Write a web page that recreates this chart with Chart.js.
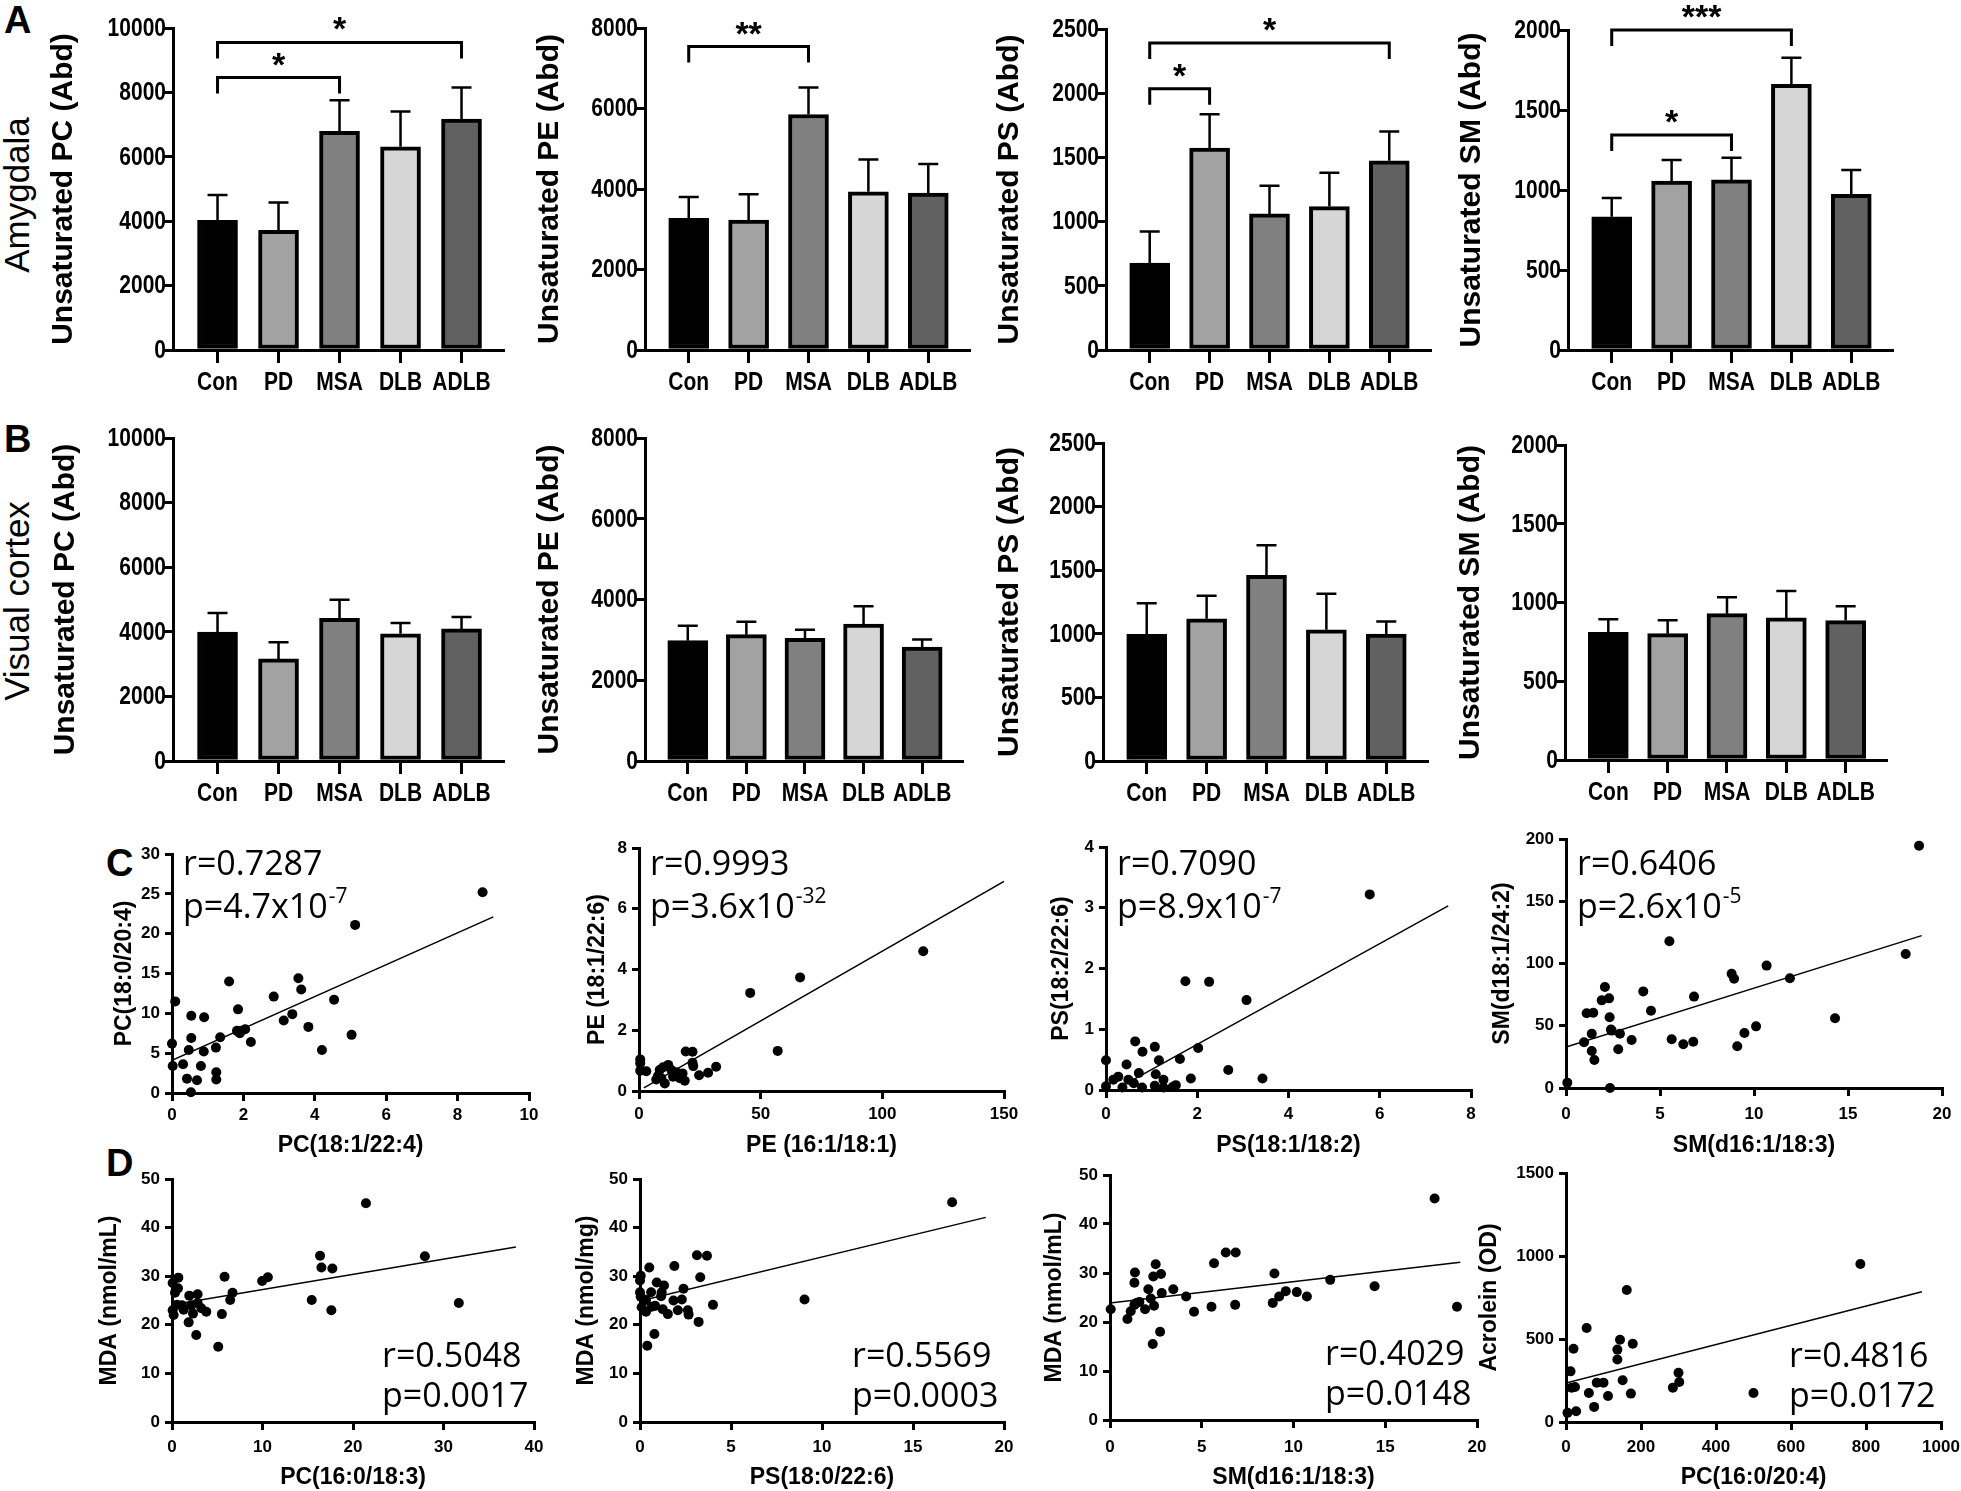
<!DOCTYPE html>
<html>
<head>
<meta charset="utf-8">
<title>Unsaturated lipids</title>
<script src="https://cdn.jsdelivr.net/npm/chart.js@4.4.1/dist/chart.umd.min.js"></script>
<style>
  html, body { margin: 0; padding: 0; background: #fff; }
  #fig { position: relative; width: 1961px; height: 1491px; overflow: hidden; background: #fff; }
  #fig canvas { position: absolute; }
  .letter { position: absolute; font: bold 38px 'Liberation Sans', Arial, sans-serif; line-height: 38px; color: #000; }
  .region { position: absolute; font: 35px 'Liberation Sans', Arial, sans-serif; line-height: 1; color: #000;
            white-space: nowrap; transform: translate(-50%, -50%) rotate(-90deg); }
</style>
</head>
<body>
<div id="fig">
  <div class="letter" style="left:4px;top:1px">A</div>
  <div class="letter" style="left:4px;top:420px">B</div>
  <div class="letter" style="left:106px;top:844px">C</div>
  <div class="letter" style="left:106px;top:1144px">D</div>
  <div class="region" style="left:16px;top:195px">Amygdala</div>
  <div class="region" style="left:16px;top:601px">Visual cortex</div>
</div>
<script>
// ---------- data ----------
const groups = ['Con', 'PD', 'MSA', 'DLB', 'ADLB'];

// amygdala: mean and upper SEM
const amyPC = [4030, 3720, 6790, 6310, 7170];
const amyPCErr = [780, 860, 970, 1100, 980];
const amyPE = [3270, 3230, 5850, 3930, 3900];
const amyPEErr = [530, 640, 670, 800, 720];
const amyPS = [676, 1572, 1060, 1117, 1473];
const amyPSErr = [247, 265, 219, 263, 229];
const amySM = [833, 1056, 1063, 1660, 973];
const amySMErr = [117, 132, 139, 167, 152];

// visual cortex
const visPC = [3990, 3160, 4420, 3940, 4090];
const visPCErr = [590, 520, 570, 330, 370];
const visPE = [2980, 3130, 3040, 3390, 2820];
const visPEErr = [370, 320, 210, 440, 190];
const visPS = [995, 1118, 1459, 1031, 997];
const visPSErr = [246, 181, 237, 284, 100];
const visSM = [811, 802, 929, 902, 885];
const visSMErr = [82, 85, 104, 171, 91];

// significance brackets: [from group, to group, bracket level, stars]
const sigPC = [[0, 2, 8460, '*'], [0, 4, 9550, '*']];
const sigPE = [[0, 2, 7540, '**']];
const sigPS = [[0, 1, 2035, '*'], [0, 4, 2391, '*']];
const sigSM = [[0, 2, 1344, '*'], [0, 3, 2000, '***']];

// correlations (C)
const c1X = [8.70, 5.13, 3.54, 3.62, 1.60, 2.85, 4.54, 0.09, 3.37, 3.13, 1.85, 0.54, 0.90, 3.82, 5.03, 1.82, 1.94, 2.05, 1.90, 1.35, 0.54, 2.21, 0.00, 4.20, 1.23, 0.47, 0.89, 0.31, 0.02, 0.81, 1.24, 1.24, 0.42, 0.70, 0.53];
const c1Y = [25.2, 21.1, 14.4, 13.0, 14.0, 12.1, 11.7, 11.5, 9.9, 9.1, 10.5, 9.7, 9.5, 8.3, 7.3, 7.8, 7.8, 8.0, 7.5, 7.0, 6.9, 6.4, 6.2, 5.4, 5.7, 5.4, 5.2, 3.6, 3.4, 3.4, 2.6, 1.7, 1.8, 1.6, 0.1];
const c1Fit = [[0, 4.1], [9.0, 22.1]];
const c1Stat = ['r=0.7287', 'p=4.7x10', '-7'];

const c2X = [116.8, 66.2, 45.7, 57.0, 19.2, 22.0, 22.0, 22.3, 31.7, 28.4, 24.7, 0.5, 0.5, 0.5, 3.0, 12.0, 9.9, 8.5, 13.3, 15.4, 17.9, 7.8, 9.2, 14.0, 16.8, 18.8, 10.6, 7.1];
const c2Y = [4.60, 3.74, 3.23, 1.32, 1.30, 1.29, 0.93, 0.82, 0.80, 0.60, 0.52, 1.04, 0.91, 0.67, 0.65, 0.86, 0.78, 0.69, 0.69, 0.62, 0.58, 0.49, 0.42, 0.47, 0.42, 0.34, 0.25, 0.38];
const c2Fit = [[2, 0.1], [150, 6.9]];
const c2Stat = ['r=0.9993', 'p=3.6x10', '-32'];

const c3X = [5.78, 1.74, 2.26, 3.08, 0.64, 0.80, 1.07, 2.02, 1.16, 1.62, 0.00, 0.45, 0.72, 1.09, 2.68, 3.43, 1.86, 0.16, 0.27, 0.49, 0.61, 1.26, 0.00, 0.36, 0.79, 1.07, 1.26, 1.46, 1.53];
const c3Y = [3.22, 1.79, 1.78, 1.48, 0.80, 0.63, 0.71, 0.69, 0.49, 0.51, 0.49, 0.42, 0.28, 0.26, 0.33, 0.19, 0.19, 0.17, 0.22, 0.17, 0.11, 0.17, 0.06, 0.04, 0.04, 0.07, 0.04, 0.05, 0.08];
const c3Fit = [[0.4, 0.09], [7.5, 3.03]];
const c3Stat = ['r=0.7090', 'p=8.9x10', '-7'];

const c4X = [18.78, 5.50, 18.07, 10.67, 8.81, 8.94, 11.91, 2.07, 4.11, 2.29, 1.90, 6.81, 4.52, 1.10, 1.45, 2.32, 14.31, 10.11, 1.37, 2.43, 2.87, 2.39, 9.49, 3.49, 5.62, 6.24, 6.77, 0.96, 9.11, 2.78, 1.37, 1.51, 0.07, 2.34];
const c4Y = [194.6, 117.8, 107.6, 98.3, 91.8, 87.8, 88.1, 81.1, 77.6, 72.0, 70.4, 73.4, 62.1, 60.0, 60.5, 56.8, 56.0, 49.5, 43.6, 46.1, 43.6, 46.9, 44.2, 38.6, 39.1, 35.1, 37.2, 36.7, 33.5, 31.1, 29.7, 22.5, 4.3, 0.0];
const c4Fit = [[0, 32.9], [18.92, 122.4]];
const c4Stat = ['r=0.6406', 'p=2.6x10', '-5'];

// correlations with oxidative markers (D)
const d1X = [21.43, 16.36, 27.94, 16.51, 17.72, 5.81, 9.96, 10.59, 0.70, 0.07, 0.66, 0.33, 6.69, 1.91, 2.83, 15.44, 6.43, 31.69, 1.10, 0.55, 2.13, 2.83, 3.24, 3.79, 0.07, 17.61, 5.51, 0.18, 2.32, 1.84, 2.68, 5.11, 1.29];
const d1Y = [45.0, 34.2, 34.1, 31.8, 31.6, 29.9, 29.0, 29.8, 29.7, 28.6, 27.5, 26.6, 26.6, 26.0, 26.3, 25.1, 25.1, 24.5, 24.0, 24.1, 24.0, 24.5, 23.4, 22.7, 23.0, 23.0, 22.2, 22.0, 22.3, 20.5, 17.9, 15.5, 23.1];
const d1Fit = [[0, 24.1], [38, 36.0]];
const d1Stat = ['r=0.5048', 'p=0.0017'];

const d2X = [17.15, 9.04, 3.13, 3.68, 0.51, 1.89, 3.31, 0.04, 0.00, 0.92, 1.32, 2.39, 0.00, 0.61, 1.19, 1.16, 1.84, 2.30, 0.04, 0.33, 0.09, 0.64, 0.83, 4.01, 1.25, 2.08, 2.63, 1.53, 2.67, 0.33, 3.22, 0.79, 0.40];
const d2Y = [45.2, 25.2, 34.3, 34.2, 31.8, 32.1, 29.8, 30.1, 29.1, 28.7, 28.1, 27.4, 26.7, 26.7, 26.7, 25.9, 25.0, 25.2, 25.8, 25.1, 23.6, 23.7, 23.9, 24.1, 23.2, 23.0, 23.0, 22.2, 22.1, 22.7, 20.6, 18.1, 15.7];
const d2Fit = [[0, 24.9], [19, 42.1]];
const d2Stat = ['r=0.5569', 'p=0.0003'];

const d3X = [17.69, 6.31, 6.85, 5.67, 2.49, 1.36, 2.78, 2.36, 8.96, 1.33, 12.0, 2.09, 3.45, 14.42, 2.82, 9.58, 10.18, 4.15, 10.73, 9.22, 2.22, 8.87, 1.45, 1.60, 1.33, 2.40, 5.53, 6.82, 18.91, 0.04, 1.91, 1.13, 4.58, 0.95, 2.73, 2.33];
const d3Y = [45.2, 34.2, 34.2, 32.0, 31.8, 30.1, 29.8, 29.3, 29.9, 28.0, 28.6, 26.7, 26.7, 27.3, 25.9, 26.3, 26.1, 25.2, 25.2, 25.2, 24.8, 23.9, 23.9, 24.1, 23.5, 23.3, 23.1, 23.5, 23.1, 22.6, 22.6, 22.2, 22.1, 20.6, 18.0, 15.5];
const d3Fit = [[0, 23.9], [19.09, 32.2]];
const d3Stat = ['r=0.4029', 'p=0.0148'];

const d4X = [785, 162, 55, 144, 178, 137, 20, 137, 12, 300, 151, 302, 285, 82, 100, 24, 15, 61, 112, 173, 500, 75, 27, 4];
const d4Y = [952, 795, 566, 496, 471, 436, 441, 376, 305, 297, 251, 241, 207, 237, 237, 211, 207, 175, 157, 171, 175, 91, 65, 55];
const d4Fit = [[0, 235], [949, 785]];
const d4Stat = ['r=0.4816', 'p=0.0172'];

// ---------- style ----------
const SANS = "'Liberation Sans', Arial, sans-serif";
const STAT = "'Open Sans', 'Noto Sans', sans-serif";
const barFill = ['#000000', '#a2a2a2', '#808080', '#d6d6d6', '#616161'];

Chart.defaults.color = '#000';
Chart.defaults.font.family = SANS;

function addCanvas(g) {
    const c = document.createElement('canvas');
    c.width = g.w;
    c.height = g.h;
    c.style.left = g.x + 'px';
    c.style.top = g.y + 'px';
    c.style.width = g.w + 'px';
    c.style.height = g.h + 'px';
    document.getElementById('fig').appendChild(c);
    return c.getContext('2d');
}

// draw text squeezed horizontally
function fillScaled(ctx, text, x, y, sx, align) {
    ctx.save();
    ctx.translate(x, y);
    ctx.scale(sx, 1);
    ctx.textAlign = align;
    ctx.fillText(text, 0, 0);
    ctx.restore();
}

// condensed tick labels of the bar panels (positions from the chart scales)
const narrowTicks = {
    id: 'narrowTicks',
    afterDraw(chart) {
        const ctx = chart.ctx;
        const x = chart.scales.x, y = chart.scales.y;
        ctx.save();
        ctx.fillStyle = '#000';
        ctx.font = 'bold 25px ' + SANS;
        ctx.textBaseline = 'middle';
        y.ticks.forEach(t => {
            fillScaled(ctx, String(t.value), y.right - 7, y.getPixelForValue(t.value) + 1, 0.84, 'right');
        });
        x.ticks.forEach(t => {
            fillScaled(ctx, groups[t.value], x.getPixelForValue(t.value), x.top + 33, 0.84, 'center');
        });
        ctx.restore();
    }
};

// upper-only SEM whiskers
const errorBars = {
    id: 'errorBars',
    afterDatasetsDraw(chart, args, opts) {
        const meta = chart.getDatasetMeta(0);
        const y = chart.scales.y;
        const ctx = chart.ctx;
        ctx.save();
        ctx.strokeStyle = '#000';
        ctx.lineWidth = 2.5;
        meta.data.forEach((bar, i) => {
            const v = chart.data.datasets[0].data[i].y;
            const top = y.getPixelForValue(v + opts.errs[i]);
            ctx.beginPath();
            ctx.moveTo(bar.x, bar.y);
            ctx.lineTo(bar.x, top);
            ctx.moveTo(bar.x - 10, top);
            ctx.lineTo(bar.x + 10, top);
            ctx.stroke();
        });
        ctx.restore();
    }
};

// significance brackets with stars
const brackets = {
    id: 'brackets',
    afterDraw(chart, args, opts) {
        const ctx = chart.ctx;
        const x = chart.scales.x, y = chart.scales.y;
        ctx.save();
        ctx.strokeStyle = '#000';
        ctx.fillStyle = '#000';
        ctx.lineWidth = 3;
        ctx.font = 'bold 34px ' + SANS;
        ctx.textAlign = 'center';
        ctx.textBaseline = 'alphabetic';
        (opts.items || []).forEach(([from, to, level, stars]) => {
            const x1 = x.getPixelForValue(from);
            const x2 = x.getPixelForValue(to);
            const yy = y.getPixelForValue(level);
            ctx.beginPath();
            ctx.moveTo(x1, yy + 16);
            ctx.lineTo(x1, yy);
            ctx.lineTo(x2, yy);
            ctx.lineTo(x2, yy + 16);
            ctx.stroke();
            ctx.fillText(stars, (x1 + x2) / 2, yy - 22 + 20);
        });
        ctx.restore();
    }
};

// r / p annotation, p can carry a superscript exponent
const statText = {
    id: 'statText',
    afterDraw(chart, args, o) {
        const ctx = chart.ctx, a = chart.chartArea;
        const x = o.corner === 'top' ? a.left + 11 : a.right - 152;
        const rY = o.corner === 'top' ? o.topY : a.bottom - 55;
        const pY = rY + (o.corner === 'top' ? 43 : 40);
        ctx.save();
        ctx.fillStyle = '#000';
        ctx.textAlign = 'left';
        ctx.textBaseline = 'alphabetic';
        ctx.font = '34px ' + STAT;
        ctx.fillText(o.text[0], x, rY);
        ctx.fillText(o.text[1], x, pY);
        if (o.text[2]) {
            const w = ctx.measureText(o.text[1]).width;
            ctx.font = '21px ' + STAT;
            ctx.fillText(o.text[2], x + w + 1, pY - 15);
        }
        ctx.restore();
    }
};

function barChart(g, values, errs, yMax, yStep, yTitle, sig) {
    new Chart(addCanvas(g), {
        type: 'bar',
        data: {
            datasets: [{
                data: values.map((v, i) => ({ x: i, y: v })),
                backgroundColor: barFill,
                borderColor: '#000',
                borderWidth: 4,
                borderSkipped: false,
                barThickness: 40
            }]
        },
        options: {
            responsive: false,
            animation: false,
            devicePixelRatio: 1,
            events: [],
            layout: { padding: { left: 0, right: g.x + g.w - g.R, top: g.T - g.y, bottom: 0 } },
            plugins: {
                legend: { display: false },
                tooltip: { enabled: false },
                errorBars: { errs: errs },
                brackets: { items: sig || [] }
            },
            scales: {
                x: {
                    type: 'linear',
                    min: -0.73,
                    max: 4.68,
                    offset: false,
                    afterBuildTicks: s => { s.ticks = groups.map((_, i) => ({ value: i })); },
                    afterFit: s => { s.height = g.y + g.h - g.B; },
                    ticks: { display: false },
                    grid: { drawOnChartArea: false, offset: false, tickLength: 13, lineWidth: 3, color: '#000' },
                    border: { color: '#000', width: 3 }
                },
                y: {
                    min: 0,
                    max: yMax,
                    afterFit: s => { s.width = g.L - g.x; },
                    ticks: { stepSize: yStep, display: false },
                    grid: { drawOnChartArea: false, tickLength: 9, lineWidth: 3, color: '#000' },
                    border: { color: '#000', width: 3 },
                    title: {
                        display: true, text: yTitle, color: '#000',
                        font: { family: SANS, weight: 'bold', size: 30 },
                        padding: { top: g.tp, bottom: 0 }
                    }
                }
            }
        },
        plugins: [errorBars, brackets, narrowTicks]
    });
}

function scatterChart(g, xs, ys, fit, xMax, xStep, yMax, yStep, xTitle, yTitle, stat, corner) {
    new Chart(addCanvas(g), {
        type: 'scatter',
        data: {
            datasets: [{
                data: xs.map((x, i) => ({ x: x, y: ys[i] })),
                backgroundColor: '#000',
                borderWidth: 0,
                pointRadius: 5,
                clip: false
            }, {
                type: 'line',
                data: fit.map(p => ({ x: p[0], y: p[1] })),
                borderColor: '#000',
                borderWidth: 1.5,
                pointRadius: 0,
                fill: false
            }]
        },
        options: {
            responsive: false,
            animation: false,
            devicePixelRatio: 1,
            events: [],
            layout: { padding: { left: 0, right: g.x + g.w - g.R, top: g.T - g.y, bottom: 0 } },
            plugins: {
                legend: { display: false },
                tooltip: { enabled: false },
                statText: { text: stat, corner: corner, topY: 875 - g.y }
            },
            scales: {
                x: {
                    type: 'linear',
                    min: 0,
                    max: xMax,
                    afterFit: s => { s.height = g.y + g.h - g.B; },
                    ticks: {
                        stepSize: xStep, padding: g.xp, color: '#000', maxRotation: 0,
                        font: { family: SANS, weight: 'bold', size: 17 },
                        callback: v => v
                    },
                    grid: { drawOnChartArea: false, tickLength: 8, lineWidth: 3, color: '#000' },
                    border: { color: '#000', width: 3 },
                    title: {
                        display: true, text: xTitle, color: '#000',
                        font: { family: SANS, weight: 'bold', size: 23 },
                        padding: { top: 0, bottom: g.bp }
                    }
                },
                y: {
                    min: 0,
                    max: yMax,
                    afterFit: s => { s.width = g.L - g.x; },
                    ticks: {
                        stepSize: yStep, padding: 5, color: '#000',
                        font: { family: SANS, weight: 'bold', size: 17 },
                        callback: v => v
                    },
                    grid: { drawOnChartArea: false, tickLength: 7, lineWidth: 3, color: '#000' },
                    border: { color: '#000', width: 3 },
                    title: {
                        display: true, text: yTitle, color: '#000',
                        font: { family: SANS, weight: 'bold', size: 23 },
                        padding: { top: g.tp, bottom: 0 }
                    }
                }
            }
        },
        plugins: [statText]
    });
}

// ---------- panels ----------
// A: amygdala
barChart({ x: 40, y: 0, w: 485, h: 400, L: 173, T: 28, R: 503, B: 350, tp: 6 },
    amyPC, amyPCErr, 10000, 2000, 'Unsaturated PC (Abd)', sigPC);
barChart({ x: 520, y: 0, w: 470, h: 400, L: 645, T: 28, R: 969, B: 350, tp: 12 },
    amyPE, amyPEErr, 8000, 2000, 'Unsaturated PE (Abd)', sigPE);
barChart({ x: 980, y: 0, w: 470, h: 400, L: 1106, T: 29, R: 1430, B: 350, tp: 12 },
    amyPS, amyPSErr, 2500, 500, 'Unsaturated PS (Abd)', sigPS);
barChart({ x: 1440, y: 0, w: 480, h: 400, L: 1568, T: 30, R: 1892, B: 350, tp: 14 },
    amySM, amySMErr, 2000, 500, 'Unsaturated SM (Abd)', sigSM);

// B: visual cortex
barChart({ x: 40, y: 400, w: 485, h: 410, L: 173, T: 438, R: 503, B: 761, tp: 8 },
    visPC, visPCErr, 10000, 2000, 'Unsaturated PC (Abd)');
barChart({ x: 520, y: 400, w: 470, h: 410, L: 645, T: 438, R: 962, B: 761, tp: 12 },
    visPE, visPEErr, 8000, 2000, 'Unsaturated PE (Abd)');
barChart({ x: 980, y: 400, w: 470, h: 410, L: 1103, T: 443, R: 1427, B: 761, tp: 12 },
    visPS, visPSErr, 2500, 500, 'Unsaturated PS (Abd)');
barChart({ x: 1440, y: 400, w: 480, h: 410, L: 1565, T: 445, R: 1886, B: 760, tp: 13 },
    visSM, visSMErr, 2000, 500, 'Unsaturated SM (Abd)');

// C: lipid vs lipid
scatterChart({ x: 100, y: 820, w: 460, h: 345, L: 172, T: 854, R: 529, B: 1093, tp: 11.2, xp: 4, bp: 6 },
    c1X, c1Y, c1Fit, 10, 2, 30, 5, 'PC(18:1/22:4)', 'PC(18:0/20:4)', c1Stat, 'top');
scatterChart({ x: 570, y: 820, w: 460, h: 345, L: 639, T: 848, R: 1004, B: 1091, tp: 14.2, xp: 5, bp: 6 },
    c2X, c2Y, c2Fit, 150, 50, 8, 2, 'PE (16:1/18:1)', 'PE (18:1/22:6)', c2Stat, 'top');
scatterChart({ x: 1035, y: 820, w: 465, h: 345, L: 1106, T: 847, R: 1471, B: 1090, tp: 13.2, xp: 6, bp: 6 },
    c3X, c3Y, c3Fit, 8, 2, 4, 1, 'PS(18:1/18:2)', 'PS(18:2/22:6)', c3Stat, 'top');
scatterChart({ x: 1475, y: 820, w: 505, h: 345, L: 1566, T: 839, R: 1942, B: 1088, tp: 14.2, xp: 8, bp: 6 },
    c4X, c4Y, c4Fit, 20, 5, 200, 50, 'SM(d16:1/18:3)', 'SM(d18:1/24:2)', c4Stat, 'top');

// D: lipid vs oxidative stress
scatterChart({ x: 85, y: 1150, w: 475, h: 341, L: 172, T: 1179, R: 534, B: 1422, tp: 11.2, xp: 7, bp: 0 },
    d1X, d1Y, d1Fit, 40, 10, 50, 10, 'PC(16:0/18:3)', 'MDA (nmol/mL)', d1Stat, 'bottom');
scatterChart({ x: 560, y: 1150, w: 470, h: 341, L: 640, T: 1179, R: 1004, B: 1422, tp: 13.2, xp: 7, bp: 0 },
    d2X, d2Y, d2Fit, 20, 5, 50, 10, 'PS(18:0/22:6)', 'MDA (nmol/mg)', d2Stat, 'bottom');
scatterChart({ x: 1030, y: 1150, w: 470, h: 341, L: 1110, T: 1175, R: 1477, B: 1420, tp: 11.2, xp: 9, bp: 0 },
    d3X, d3Y, d3Fit, 20, 5, 50, 10, 'SM(d16:1/18:3)', 'MDA (nmol/mL)', d3Stat, 'bottom');
scatterChart({ x: 1460, y: 1150, w: 520, h: 341, L: 1566, T: 1173, R: 1941, B: 1422, tp: 16.2, xp: 7, bp: 0 },
    d4X, d4Y, d4Fit, 1000, 200, 1500, 500, 'PC(16:0/20:4)', 'Acrolein (OD)', d4Stat, 'bottom');
</script>
</body>
</html>
